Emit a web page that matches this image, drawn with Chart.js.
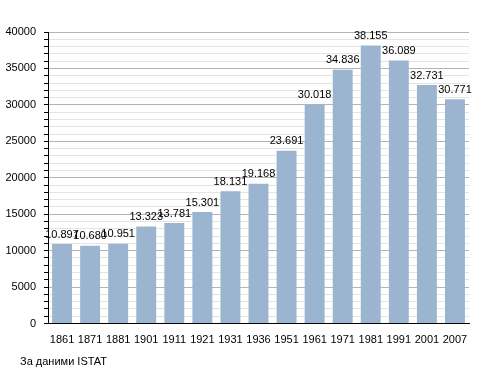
<!DOCTYPE html>
<html>
<head>
<meta charset="utf-8">
<script src="https://cdn.jsdelivr.net/npm/chart.js@4/dist/chart.umd.min.js"></script>
<style>
  html, body { margin: 0; padding: 0; background: #fff; }
  #wrap { position: relative; width: 495px; height: 373px; }
  #source { position: absolute; left: 20px; top: 355px; font: 11px "Liberation Sans", Arial, sans-serif; color: #000; }
</style>
</head>
<body>
<div id="wrap">
  <canvas id="popChart" width="495" height="373"></canvas>
  <div id="source">За даними ISTAT</div>
</div>
<script>
var years = ['1861', '1871', '1881', '1901', '1911', '1921', '1931', '1936', '1951', '1961', '1971', '1981', '1991', '2001', '2007'];
var population = [10897, 10680, 10951, 13323, 13781, 15301, 18131, 19168, 23691, 30018, 34836, 38155, 36089, 32731, 30771];
var yTicks = [0, 5000, 10000, 15000, 20000, 25000, 30000, 35000, 40000];

// thousands with a dot, like 10.897
function fmt(v) {
  return String(v).replace(/\B(?=(\d{3})+(?!\d))/g, '.');
}

// value labels over the bars
var barLabels = {
  id: 'barLabels',
  afterDatasetsDraw: function(chart) {
    var ctx = chart.ctx;
    var meta = chart.getDatasetMeta(0);
    ctx.save();
    ctx.font = '11px "Liberation Sans", Arial, sans-serif';
    ctx.fillStyle = '#000';
    ctx.textAlign = 'center';
    ctx.textBaseline = 'bottom';
    meta.data.forEach(function(bar, i) {
      ctx.fillText(fmt(population[i]), bar.x, bar.y - 4);
    });
    ctx.restore();
  }
};

var ctx = document.getElementById('popChart').getContext('2d');
var popChart = new Chart(ctx, {
  type: 'bar',
  data: {
    labels: years,
    datasets: [{
      data: population,
      backgroundColor: '#9bb5d0',
      borderWidth: 0,
      barPercentage: 0.71,
      categoryPercentage: 1
    }]
  },
  options: {
    responsive: false,
    animation: false,
    layout: { padding: { left: 0, top: 32, right: 26, bottom: 29 } },
    plugins: {
      legend: { display: false },
      tooltip: { enabled: false }
    },
    scales: {
      x: {
        grid: { display: false },
        border: { color: '#000', width: 1 },
        ticks: {
          color: '#000',
          padding: 2,
          maxRotation: 0,
          autoSkip: false,
          font: { family: '"Liberation Sans", Arial, sans-serif', size: 11 }
        },
        afterFit: function(scale) { scale.height = 20.5; }
      },
      y: {
        min: 0,
        max: 40000,
        grid: {
          color: function(c) {
            return c.tick && yTicks.indexOf(c.tick.value) >= 0 ? '#b4b4b4' : '#e4e4e4';
          },
          tickColor: '#000',
          tickLength: 4
        },
        border: { color: '#000', width: 1 },
        ticks: {
          stepSize: 1000,
          autoSkip: false,
          color: '#000',
          padding: 8,
          font: { family: '"Liberation Sans", Arial, sans-serif', size: 11 },
          callback: function(v) {
            return yTicks.indexOf(v) >= 0 ? v : '';
          }
        },
        afterFit: function(scale) { scale.width = 48; }
      }
    }
  },
  plugins: [barLabels]
});
</script>
</body>
</html>
